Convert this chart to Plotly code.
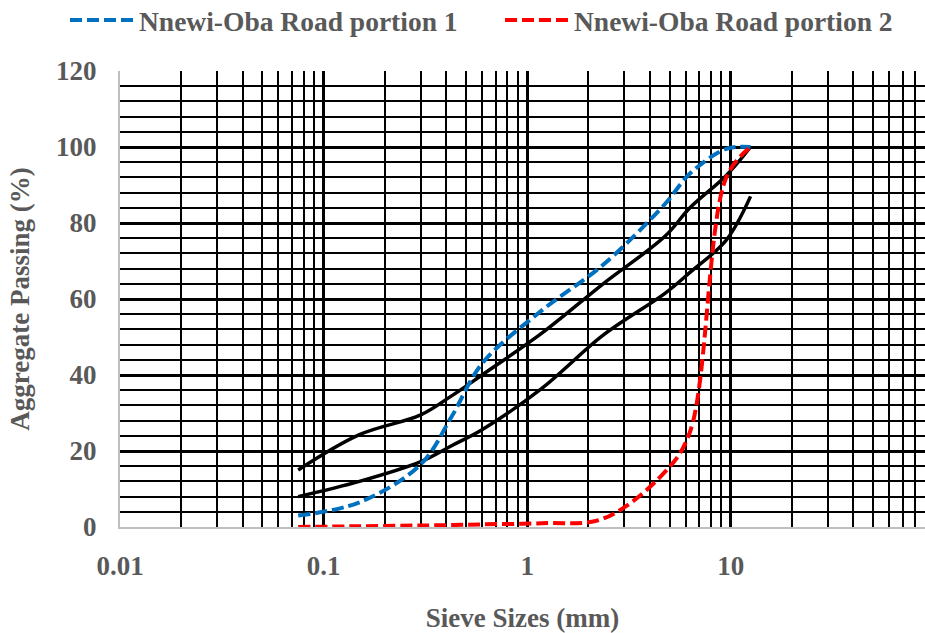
import plotly.graph_objects as go

# Sieve sizes (mm)
sieve = [0.075, 0.15, 0.3, 0.425, 0.6, 1.18, 2.36, 4.75, 6.3, 9.5, 12.5]

# Specification envelope (solid black)
upper_limit = [15, 24.3, 29.5, 34.5, 40, 51, 64, 76.5, 84, 92.5, 100]
lower_limit = [8, 12, 17.2, 21.4, 25.6, 36.5, 50.5, 61.5, 67, 75.5, 87]

# Samples (% passing)
portion1 = [3, 6.5, 16.5, 29, 43, 57, 69, 85, 93, 99.5, 100]
portion2 = [0, 0.2, 0.4, 0.5, 0.7, 1.0, 2.2, 14.5, 25, 92, 100]

series_names = ["Nnewi-Oba Road portion 1", "Nnewi-Oba Road portion 2"]

x_tickvals = [0.01, 0.1, 1, 10]
x_ticktext = ["0.01", "0.1", "1", "10"]
y_tickvals = [0, 20, 40, 60, 80, 100, 120]
y_ticktext = ["0", "20", "40", "60", "80", "100", "120"]

FONT = "Liberation Serif"
GREY = "#595959"
LEGEND_FONT = dict(family=FONT, size=27.5, color=GREY, weight="bold")

fig = go.Figure()
for lim in (upper_limit, lower_limit):
    fig.add_trace(go.Scatter(x=sieve, y=lim, mode="lines", showlegend=False,
                             line=dict(color="black", width=3.5, shape="spline"),
                             hoverinfo="skip"))
fig.add_trace(go.Scatter(x=sieve, y=portion1, mode="lines", name=series_names[0],
                         legend="legend",
                         line=dict(color="#0070C0", width=4, dash="12px,5px", shape="spline")))
fig.add_trace(go.Scatter(x=sieve, y=portion2, mode="lines", name=series_names[1],
                         legend="legend2",
                         line=dict(color="#FF0000", width=4, dash="12px,5px", shape="spline")))

fig.update_layout(
    width=925, height=633,
    margin=dict(l=120, r=0, t=71, b=106, autoexpand=False),
    paper_bgcolor="white", plot_bgcolor="white",
    font=dict(family=FONT, size=27, color=GREY, weight="bold"),
    legend=dict(orientation="h", xref="container", yref="container",
                x=65 / 925, y=1 - 20 / 633, xanchor="left", yanchor="middle",
                itemwidth=64, font=LEGEND_FONT, bgcolor="rgba(0,0,0,0)"),
    legend2=dict(orientation="h", xref="container", yref="container",
                 x=500 / 925, y=1 - 20 / 633, xanchor="left", yanchor="middle",
                 itemwidth=64, font=LEGEND_FONT, bgcolor="rgba(0,0,0,0)"),
)
fig.update_xaxes(
    type="log", range=[-2, 1.9538],
    tickmode="array", tickvals=x_tickvals, ticktext=x_ticktext,
    showgrid=True, gridcolor="black", gridwidth=3,
    minor=dict(dtick="D1", showgrid=True, gridcolor="black", gridwidth=2, ticks=""),
    showline=True, linecolor="#BFBFBF", linewidth=2,
    ticks="", ticklabelstandoff=14, zeroline=False,
    title=dict(text="Sieve Sizes (mm)", standoff=30,
               font=dict(family=FONT, size=27, color=GREY, weight="bold")),
)
fig.update_yaxes(
    range=[0, 120],
    tickmode="array", tickvals=y_tickvals, ticktext=y_ticktext,
    showgrid=True, gridcolor="black", gridwidth=3,
    minor=dict(dtick=4, tick0=0, showgrid=True, gridcolor="black", gridwidth=2, ticks=""),
    showline=True, linecolor="#BFBFBF", linewidth=2,
    ticks="", ticklabelstandoff=16, zeroline=False,
    title=dict(text="Aggregate Passing (%)", standoff=19,
               font=dict(family=FONT, size=27, color=GREY, weight="bold")),
)

fig.write_html("out.html")
